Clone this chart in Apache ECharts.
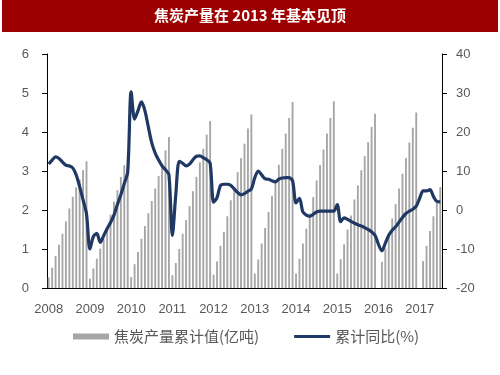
<!DOCTYPE html>
<html>
<head>
<meta charset="utf-8">
<script src="https://cdn.jsdelivr.net/npm/echarts@6/dist/echarts.min.js"></script>
<style>html,body{margin:0;padding:0;background:#fff;}#c{width:500px;height:375px;}</style>
</head>
<body>
<div id="c"></div>
<script>
const years = ['2008','2009','2010','2011','2012','2013','2014','2015','2016','2017'];
const monthsLastYear = 7;

// 焦炭产量累计值(亿吨), monthly cumulative, by year
const prod2008 = [0.27,0.52,0.82,1.11,1.39,1.71,2.04,2.34,2.58,2.78,3.02,3.25];
const prod2009 = [0.24,0.50,0.75,1.01,1.25,1.52,1.88,2.21,2.51,2.85,3.15,3.45];
const prod2010 = [0.28,0.61,0.92,1.26,1.59,1.92,2.23,2.55,2.87,3.19,3.53,3.87];
const prod2011 = [0.33,0.64,1.00,1.39,1.74,2.10,2.48,2.85,3.22,3.57,3.93,4.28];
const prod2012 = [0.34,0.68,1.08,1.44,1.84,2.25,2.59,2.97,3.33,3.70,4.09,4.45];
const prod2013 = [0.37,0.73,1.14,1.54,1.95,2.36,2.76,3.16,3.57,3.96,4.36,4.77];
const prod2014 = [0.37,0.75,1.14,1.52,1.91,2.33,2.76,3.15,3.55,3.96,4.36,4.79];
const prod2015 = [0.37,0.74,1.12,1.50,1.86,2.27,2.63,3.02,3.38,3.74,4.13,4.47];
const prod2016 = [null,0.67,1.01,1.39,1.78,2.15,2.55,2.93,3.33,3.73,4.11,4.50];
const prod2017 = [null,0.69,1.08,1.46,1.84,2.18,2.59];

// 累计同比(%), monthly, by year
const yoy2008 = [11.8,12.8,13.6,13.2,12.3,11.5,11.3,10.8,9.0,6.0,2.6,-1.0];
const yoy2009 = [-10.0,-6.8,-6.0,-8.3,-6.6,-4.8,-3.2,-1.3,1.4,3.9,6.8,9.8];
const yoy2010 = [30.3,23.3,25.5,27.7,25.5,21.3,17.2,14.6,12.8,11.3,10.3,9.0];
const yoy2011 = [-6.5,4.0,12.5,12.0,11.3,11.8,12.9,13.8,13.9,13.4,12.9,12.0];
const yoy2012 = [2.0,3.2,6.3,6.6,6.6,6.3,5.4,4.5,3.9,4.2,4.8,5.4];
const yoy2013 = [8.3,10.0,9.0,8.0,7.9,7.5,7.2,7.9,8.2,8.3,8.3,7.5];
const yoy2014 = [1.8,3.0,-0.5,-1.3,-1.6,-1.1,-0.5,-0.3,-0.3,-0.3,-0.3,-0.3];
const yoy2015 = [1.4,-3.0,-2.0,-2.4,-2.9,-3.4,-3.8,-4.1,-4.5,-5.0,-5.6,-6.5];
const yoy2016 = [-8.8,-10.5,-8.5,-6.5,-5.2,-4.3,-3.1,-1.9,-0.9,-0.3,0.2,1.0];
const yoy2017 = [3.0,4.9,4.9,5.2,3.5,2.2,2.1];

const leftTicks = {min:0, max:6, interval:1};
const rightTicks = {min:-20, max:40, interval:10};
const titleText = '焦炭产量在 2013 年基本见顶';
const barName = '焦炭产量累计值(亿吨)';
const lineName = '累计同比(%)';

const categories = [];
years.forEach((y, yi) => {
  const n = yi === years.length - 1 ? monthsLastYear : 12;
  for (let m = 1; m <= n; m++) categories.push(y + '-' + (m < 10 ? '0' + m : m));
});
const prodAll = [].concat(prod2008,prod2009,prod2010,prod2011,prod2012,prod2013,prod2014,prod2015,prod2016,prod2017);
const yoyAll = [].concat(yoy2008,yoy2009,yoy2010,yoy2011,yoy2012,yoy2013,yoy2014,yoy2015,yoy2016,yoy2017);

const font = "'Liberation Sans', 'Noto Sans CJK SC', sans-serif";
const chart = echarts.init(document.getElementById('c'), null, {renderer: 'canvas'});
chart.setOption({
  animation: false,
  graphic: [
    {type:'rect', left:2, top:0, shape:{width:496, height:32}, style:{fill:'#9C0000'}, z:10},
    {type:'text', left:'center', top:8, z:11, style:{text:titleText, fill:'#fff', font:"bold 15px 'Noto Sans CJK SC', sans-serif"}}
  ],
  grid: {left:47, right:58, top:54, bottom:87, containLabel:false},
  legend: {
    top: 324, left: 68, itemGap: 35, itemWidth: 36, itemHeight: 6,
    textStyle: {color:'#595959', fontSize:15, fontFamily:"'Noto Sans CJK SC', sans-serif"},
    data: [
      {name:barName, icon:'rect'},
      {name:lineName, icon:'path://M0,0H120V10H0Z', itemStyle:{color:'#1F3864'}}
    ]
  },
  xAxis: {
    type:'category', data:categories, boundaryGap:true,
    axisLine:{lineStyle:{color:'#000', width:1}},
    axisTick:{length:5, lineStyle:{color:'#000'}, interval:(i)=> i % 12 === 0},
    axisLabel:{interval:(i)=> i % 12 === 0, formatter:(v)=>v.slice(0,4), color:'#595959', fontSize:13, fontFamily:font, margin:15}
  },
  yAxis: [
    {type:'value', min:leftTicks.min, max:leftTicks.max, interval:leftTicks.interval,
     axisLine:{show:true, lineStyle:{color:'#000'}}, axisTick:{show:true, length:5, lineStyle:{color:'#000'}},
     splitLine:{show:false}, axisLabel:{color:'#595959', fontSize:13, fontFamily:font, margin:18}},
    {type:'value', min:rightTicks.min, max:rightTicks.max, interval:rightTicks.interval,
     axisLine:{show:true, lineStyle:{color:'#000'}}, axisTick:{show:true, length:5, lineStyle:{color:'#000'}},
     splitLine:{show:false}, axisLabel:{color:'#595959', fontSize:13, fontFamily:font, margin:14}}
  ],
  series: [
    {name:barName, type:'bar', data:prodAll, yAxisIndex:0, barWidth:'55%', itemStyle:{color:'#A6A6A6'}},
    {name:lineName, type:'line', data:yoyAll, yAxisIndex:1, smooth:0.3, symbol:'none', showSymbol:false,
     lineStyle:{color:'#1F3864', width:3.2}, itemStyle:{color:'#1F3864'}, z:5}
  ]
});
</script>
</body>
</html>
